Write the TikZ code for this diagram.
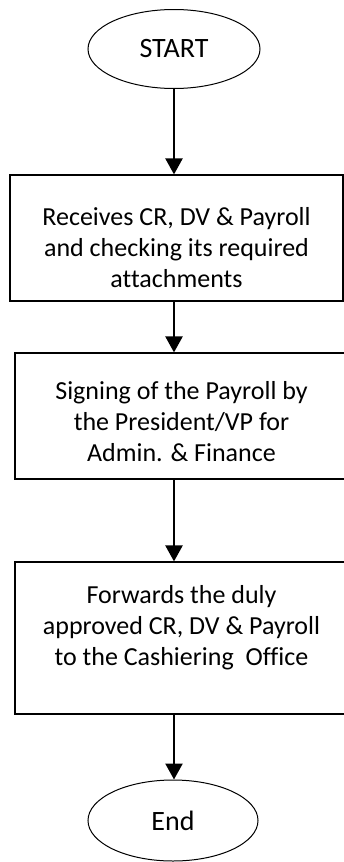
\documentclass[tikz,border=0pt]{standalone}
\usepackage{fontspec}
\setmainfont{Carlito}[Ligatures=NoCommon]
\usepackage{tikz}
\usetikzlibrary{arrows.meta}
\usetikzlibrary{shapes.geometric}
\usetikzlibrary{positioning}

\tikzset{
	term/.style={draw, ellipse, line width=1pt, minimum width=172pt, minimum height=79pt,
		font=\fontsize{28}{34}\selectfont},
	procbox/.style={draw, rectangle, line width=1.2pt, minimum width=333pt},
	proctext/.style={align=center, inner sep=0pt, font=\fontsize{26}{31}\selectfont},
	flow/.style={line width=2.4pt, -{Triangle[width=17pt,length=16pt]}}
}

\begin{document}
\begin{tikzpicture}[x=1pt,y=1pt]

	\useasboundingbox (0,0) rectangle (344,-862);
	\clip (0,0) rectangle (344,-862);

	% terminals
	\node[term] (start) at (174,-49) {START};
	\node[term, minimum width=170pt, minimum height=81pt] (end) at (173,-820.5) {End};

	% process boxes
	\node[procbox, minimum height=126pt] (recv) at (176.5,-238) {};
	\node[procbox, minimum height=126pt] (sign) at (181.5,-416) {};
	\node[procbox, minimum height=152pt] (fwd) at (181.5,-638) {};

	\node[proctext] (recvtxt) at ([yshift=-9.5pt]recv.center)
		{Receives CR, DV \& Payroll\\and checking its required\\attachments};
	\node[proctext] (signtxt) at ([yshift=-5.5pt]sign.center)
		{Signing of the Payroll by\\the President/VP for\\Admin. \& Finance};
	\node[proctext] (fwdtxt) at ([yshift=10pt]fwd.center)
		{Forwards the duly\\approved CR, DV \& Payroll\\to the Cashiering\ \ Office};

	% arrows
	\draw[flow] (start.south) -- (start.south |- recv.north);
	\draw[flow] (start.south |- recv.south) -- (start.south |- sign.north);
	\draw[flow] (start.south |- sign.south) -- (start.south |- fwd.north);
	\draw[flow] (start.south |- fwd.south) -- (start.south |- end.north);

\end{tikzpicture}
\end{document}
